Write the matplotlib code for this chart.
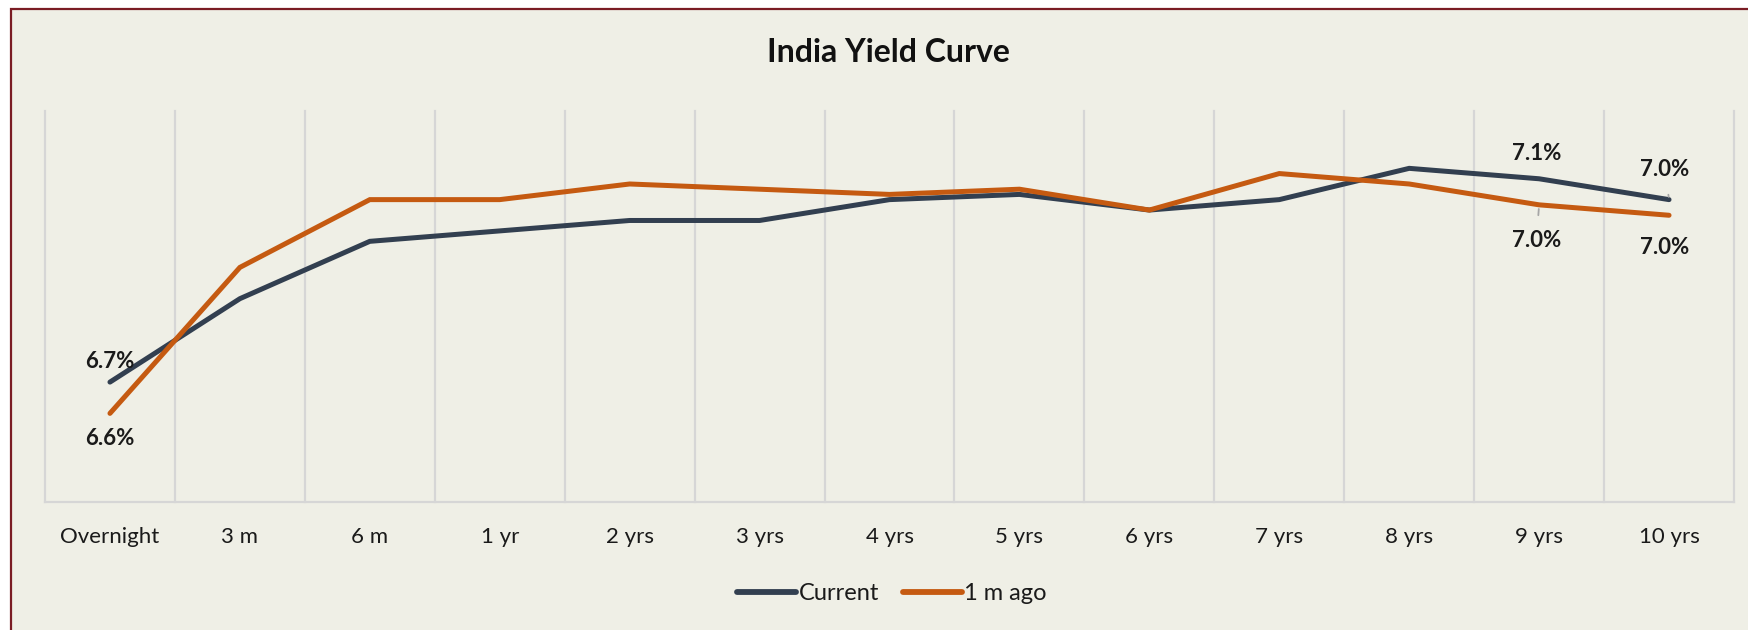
#!/usr/bin/env python3
"""
India yield curve: current vs one month ago, in the Excel chart style.
"""
import numpy as np
import matplotlib.pyplot as plt
from matplotlib.patches import Rectangle
from matplotlib.lines import Line2D

# tenors on the x axis
tenors = ['Overnight', '3 m', '6 m', '1 yr', '2 yrs', '3 yrs', '4 yrs',
          '5 yrs', '6 yrs', '7 yrs', '8 yrs', '9 yrs', '10 yrs']

# yields in %
current = [6.68, 6.84, 6.95, 6.97, 6.99, 6.99, 7.03, 7.04, 7.01, 7.03, 7.09, 7.07, 7.03]
month_ago = [6.62, 6.90, 7.03, 7.03, 7.06, 7.05, 7.04, 7.05, 7.01, 7.08, 7.06, 7.02, 7.00]

series_names = ['Current', '1 m ago']

BG = '#efefe6'
BORDER = '#7a1c24'
NAVY = '#323f50'
ORANGE = '#c55a11'
GRID = '#d6d6d6'
FONT = 'Lato'

W, H = 1748, 630
fig = plt.figure(figsize=(W / 100, H / 100), dpi=100)
fig.patch.set_facecolor('white')

# chart frame: only the top and left edges are visible in the crop
fig.patches.append(Rectangle((11 / W, -0.1), 1.1, 1 - 9 / H + 0.1,
                             transform=fig.transFigure, facecolor=BG,
                             edgecolor=BORDER, lw=1.6, zorder=-10))

ax = fig.add_axes([45 / W, 1 - 502 / H, (1734 - 45) / W, (502 - 111) / H])
ax.set_zorder(2)
ax.set_facecolor('none')
ax.set_xlim(-0.5, len(tenors) - 0.5)
ax.set_ylim(6.45, 7.2)

for s in ax.spines.values():
    s.set_visible(False)
ax.set_yticks([])

# vertical category separators
for xv in np.arange(-0.5, len(tenors)):
    ax.axvline(xv, color=GRID, lw=1.6, zorder=1, clip_on=False)
ax.axhline(6.45, color=GRID, lw=1.6, zorder=1, clip_on=False)

x = np.arange(len(tenors))
ax.plot(x, current, color=NAVY, lw=3.6, zorder=3, solid_capstyle='round',
        solid_joinstyle='miter')
ax.plot(x, month_ago, color=ORANGE, lw=3.6, zorder=3, solid_capstyle='round',
        solid_joinstyle='miter')

ax.set_xticks(x)
ax.set_xticklabels(tenors, fontsize=16, family=FONT, color='#1a1a1a')
ax.tick_params(axis='x', length=0, pad=18)

# data labels (only first and the last two points carry labels)
lab = dict(fontsize=16, fontweight='bold', family=FONT, color='#1a1a1a',
           ha='center', va='center', zorder=4)
ax.annotate(f'{current[0]:.1f}%', (0, current[0]), xytext=(0, 15),
            textcoords='offset points', **lab)
ax.annotate(f'{month_ago[0]:.1f}%', (0, month_ago[0]), xytext=(0, -18),
            textcoords='offset points', **lab)
ax.annotate(f'{current[11]:.1f}%', (11, current[11]), xytext=(-2, 18),
            textcoords='offset points', **lab)
ax.annotate(f'{month_ago[11]:.1f}%', (11, month_ago[11]), xytext=(-2, -26),
            textcoords='offset points',
            arrowprops=dict(arrowstyle='-', color='#a6a6a6', lw=1.3,
                            shrinkA=9, shrinkB=3), **lab)
ax.annotate(f'{current[12]:.1f}%', (12, current[12]), xytext=(-3, 22),
            textcoords='offset points',
            arrowprops=dict(arrowstyle='-', color='#a6a6a6', lw=1.3,
                            shrinkA=9, shrinkB=2), **lab)
ax.annotate(f'{month_ago[12]:.1f}%', (12, month_ago[12]), xytext=(-3, -23),
            textcoords='offset points', **lab)

fig.text(888 / W, 1 - 52 / H, 'India Yield Curve', ha='center', va='center',
         fontsize=23, fontweight='bold', family=FONT, color='#111111')

handles = [Line2D([], [], color=NAVY, lw=4.2, solid_capstyle='round'),
           Line2D([], [], color=ORANGE, lw=4.2, solid_capstyle='round')]
leg = fig.legend(handles, series_names, loc='center', ncol=2,
                 bbox_to_anchor=(892 / W, 1 - 594 / H), frameon=False,
                 handlelength=2.5, handletextpad=0.1, columnspacing=1.0,
                 prop={'family': FONT, 'size': 17})
for t in leg.get_texts():
    t.set_color('#1a1a1a')

fig.savefig('out.png', dpi=100, facecolor=fig.get_facecolor())
